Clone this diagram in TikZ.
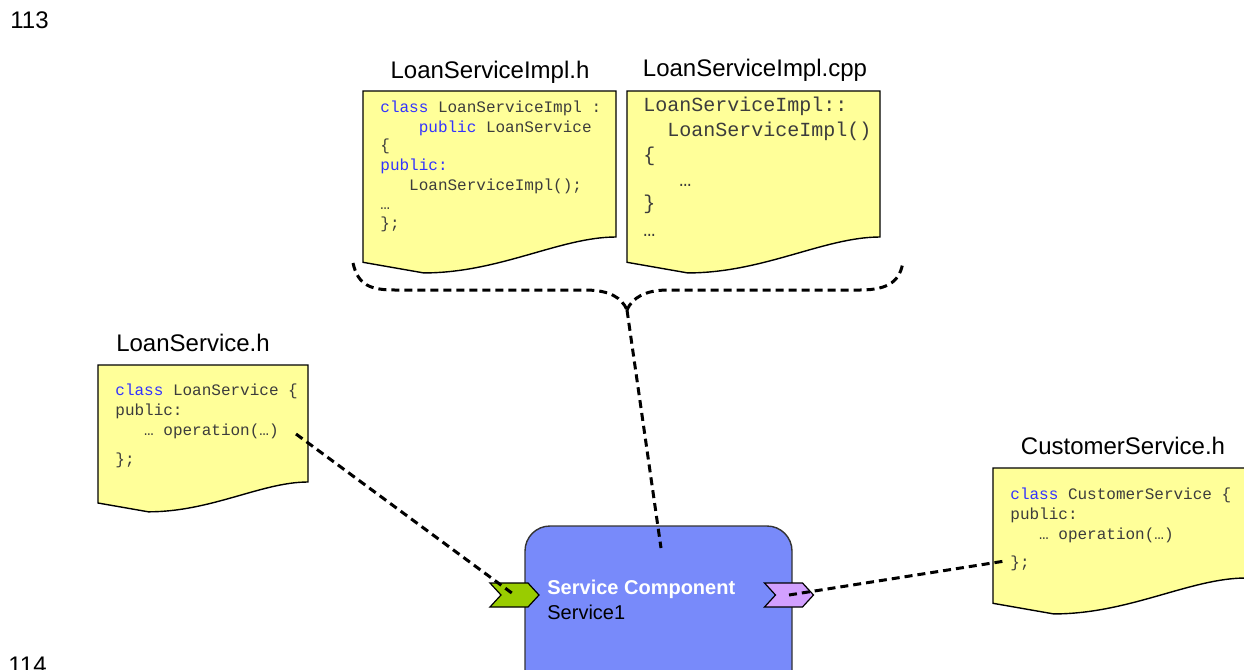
\documentclass[tikz,border=0pt]{standalone}
\usepackage{fontspec}
\setmainfont{Liberation Sans}
\newfontfamily\codefont{Liberation Mono}
\usetikzlibrary{shapes.symbols}

\definecolor{noteyellow}{RGB}{255,255,153}
\definecolor{codegray}{RGB}{60,60,60}
\definecolor{codeblue}{RGB}{51,51,255}
\definecolor{compblue}{RGB}{120,138,250}
\definecolor{portgreen}{RGB}{153,204,0}
\definecolor{portviolet}{RGB}{210,160,255}

\newcommand{\kw}[1]{\textcolor{codeblue}{#1}}
% wavy source sheet: left x, top y, width, height of right edge
\newcommand{\codesheet}[4]{%
  \draw[page] (#1,#2) -- ({#1+#3},#2) -- ({#1+#3},{#2+#4})
    .. controls ({#1+0.78*#3},{#2+#4}) and ({#1+0.54*#3},{#2+#4+0.142*#3})
    .. ({#1+0.24*#3},{#2+#4+0.142*#3}) -- (#1,{#2+#4+0.1*#3}) -- cycle;}

\begin{document}
\begin{tikzpicture}[x=0.5pt, y=-0.5pt,
    page/.style={draw=black, fill=noteyellow, line width=0.7pt},
    code/.style={font=\codefont\fontsize{8}{9}\selectfont, text=codegray, anchor=base west, inner sep=0pt},
    bigcode/.style={code, font=\codefont\fontsize{10}{12}\selectfont},
    filename/.style={font=\fontsize{12}{14}\selectfont, anchor=base, inner sep=0pt},
    pagenum/.style={font=\fontsize{12}{14}\selectfont, anchor=base west, inner sep=0pt},
    link/.style={line width=1.5pt, dash pattern=on 4pt off 2.5pt},
    port/.style={draw=black, line width=0.6pt, shape=signal, signal from=west, signal to=east,
      signal pointer angle=95, minimum width=24.5pt, minimum height=12pt, inner sep=0pt}]
    \useasboundingbox (0,0) rectangle (1244,670);

    % --- page numbers ---
    \node[pagenum] (num1) at (10,28) {113};
    \node[pagenum] (num2) at (8,673) {114};

    % --- source files ---
    \codesheet{363}{91}{253}{146}
    \codesheet{627}{91}{253}{146}
    \codesheet{98}{365}{210}{117}
    \codesheet{993}{468}{253}{110}

    \node[filename] (implHName) at (490,78) {LoanServiceImpl.h};
    \node[filename] (implCppName) at (755,76) {LoanServiceImpl.cpp};
    \node[filename] (loanHName) at (193,351) {LoanService.h};
    \node[filename] (custHName) at (1123,454) {CustomerService.h};

    \foreach \ty/\txt [count=\i] in {112/{\kw{class} LoanServiceImpl :},
        132/{\phantom{xxxx}\kw{public} LoanService}, 150/{\{}, 170/{\kw{public:}},
        190/{\phantom{xxx}LoanServiceImpl();}, 209/{…}, 228/{\};}}
        \node[code] (implH-\i) at (380,\ty) {\txt};
    \foreach \ty/\txt [count=\i] in {111/{LoanServiceImpl::}, 136/{\phantom{xx}LoanServiceImpl()},
        161/{\{}, 186/{\phantom{xxx}…}, 209/{\}}, 236/{…}}
        \node[bigcode] (implCpp-\i) at (643,\ty) {\txt};
    \foreach \ty/\txt [count=\i] in {395/{\kw{class} LoanService \{}, 415/{public:},
        435/{\phantom{xxx}… operation(…)}, 464/{\};}}
        \node[code] (loanH-\i) at (115,\ty) {\txt};
    \foreach \ty/\txt [count=\i] in {499/{\kw{class} CustomerService \{}, 519/{public:},
        539/{\phantom{xxx}… operation(…)}, 567/{\};}}
        \node[code] (custH-\i) at (1010,\ty) {\txt};

    % --- service component ---
    \node[draw=black!80, fill=compblue, line width=0.7pt, rounded corners=12.5pt,
        minimum width=133.5pt, minimum height=95pt] (comp) at (658.5,621) {};
    \node[font=\bfseries\fontsize{10}{12}\selectfont, text=white, anchor=base west, inner sep=0pt]
        (compTitle) at (547,594) {Service Component};
    \node[font=\fontsize{10}{12}\selectfont, anchor=base west, inner sep=0pt]
        (compName) at (547,619) {Service1};
    \node[port, fill=portgreen] (inPort) at (514.5,595) {};
    \node[port, fill=portviolet] (outPort) at (789,595) {};

    % --- brace over the implementation files ---
    \coordinate (braceTip) at (627,310);
    \draw[link] (353,263) .. controls (358,285) and (370,290) .. (395,290) -- (585,290)
        .. controls (610,290) and (622,298) .. (braceTip);
    \draw[link] (braceTip) .. controls (632,298) and (645,290) .. (668,290) -- (860,290)
        .. controls (890,290) and (900,280) .. (903,262);

    % --- links ---
    \coordinate (loanEnd) at (296,434);
    \coordinate (custEnd) at (1005,561);
    \coordinate (compTop) at (661,548);
    \draw[link] (loanEnd) -- (inPort.center);
    \draw[link] (outPort.center) -- (custEnd);
    \draw[link] (braceTip) -- (compTop);
\end{tikzpicture}
\end{document}
